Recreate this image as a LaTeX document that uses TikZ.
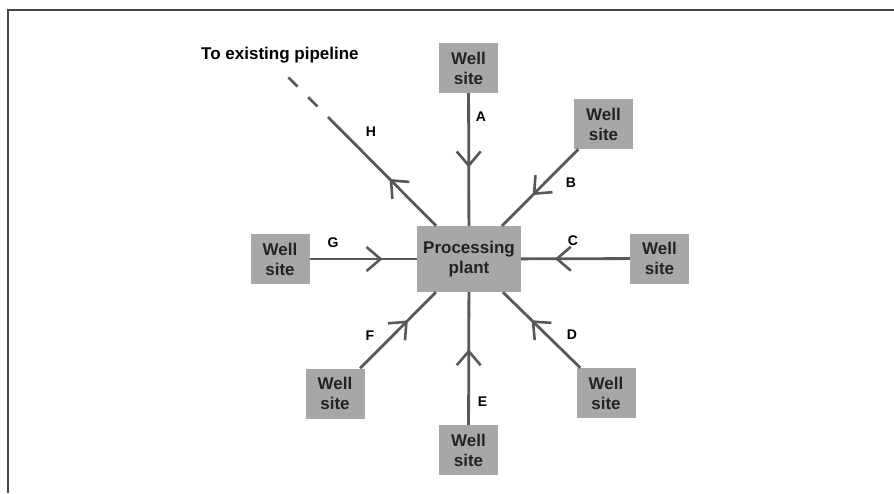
\documentclass[tikz,border=0pt]{standalone}
\usepackage{fontspec}
\setmainfont{Liberation Sans}
\usetikzlibrary{arrows.meta,decorations.markings}
\definecolor{boxgray}{RGB}{167,167,169}
\definecolor{linegray}{RGB}{88,88,88}
\definecolor{txtdark}{RGB}{35,35,35}
\definecolor{framegray}{RGB}{70,70,70}
\tikzset{
  wellbox/.style={fill=boxgray, draw=none, minimum width=59pt, minimum height=50pt,
    inner sep=0pt, align=center, font=\fontsize{17}{20}\selectfont\bfseries, text=txtdark},
  plantbox/.style={wellbox, minimum width=104pt, minimum height=66pt},
  pipe/.style={draw=linegray, line width=2.8pt},
  flowmark/.style={postaction={decorate}, decoration={markings,
    mark=at position #1 with {\arrow[linegray, line width=2.6pt]{Straight Barb[length=14pt,width=24pt]}}}},
  lbl/.style={inner sep=0pt, font=\fontsize{14}{16}\selectfont\bfseries, text=black},
}
\begin{document}
\begin{tikzpicture}[x=1pt,y=-1pt]
\useasboundingbox (0,0) rectangle (894,493);
\draw[framegray, line width=2pt] (8,493) -- (8,10) -- (894,10);

\node[plantbox] (plant) at (469,259) {Processing\\plant};
\node[wellbox] (wA) at (468.5,68) {Well\\site};
\node[wellbox] (wB) at (603.5,124) {Well\\site};
\node[wellbox] (wC) at (659.5,258.5) {Well\\site};
\node[wellbox] (wD) at (606,393) {Well\\site};
\node[wellbox] (wE) at (468.5,450) {Well\\site};
\node[wellbox] (wF) at (335,393.5) {Well\\site};
\node[wellbox] (wG) at (280,259) {Well\\site};

\coordinate (hend) at (328,117);
\coordinate (hfar) at (288.4,77.4);

\draw[pipe, flowmark=0.56] (wA) -- (plant);
\draw[pipe, flowmark=0.6] (wB) -- (plant);
\draw[pipe, flowmark=0.69] (wC) -- (plant);
\draw[pipe, flowmark=0.63] (wD) -- (plant);
\draw[pipe, flowmark=0.57] (wE) -- (plant);
\draw[pipe, flowmark=0.63] (wF) -- (plant);
\draw[pipe, flowmark=0.68] (wG) -- (plant);
\draw[pipe, flowmark=0.43] (plant) -- (hend);
\draw[pipe, dash pattern=on 13pt off 15pt] (hfar) -- (hend);

\node[lbl] (lA) at (481,117) {A};
\node[lbl] (lB) at (571,183) {B};
\node[lbl] (lC) at (573,241) {C};
\node[lbl] (lD) at (572,335) {D};
\node[lbl] (lE) at (482.5,401.5) {E};
\node[lbl] (lF) at (370,335.5) {F};
\node[lbl] (lG) at (333,242.5) {G};
\node[lbl] (lH) at (371,132) {H};
\node[inner sep=0pt, anchor=base west, font=\fontsize{17}{20}\selectfont\bfseries] (title) at (201,59) {To existing pipeline};
\end{tikzpicture}
\end{document}
